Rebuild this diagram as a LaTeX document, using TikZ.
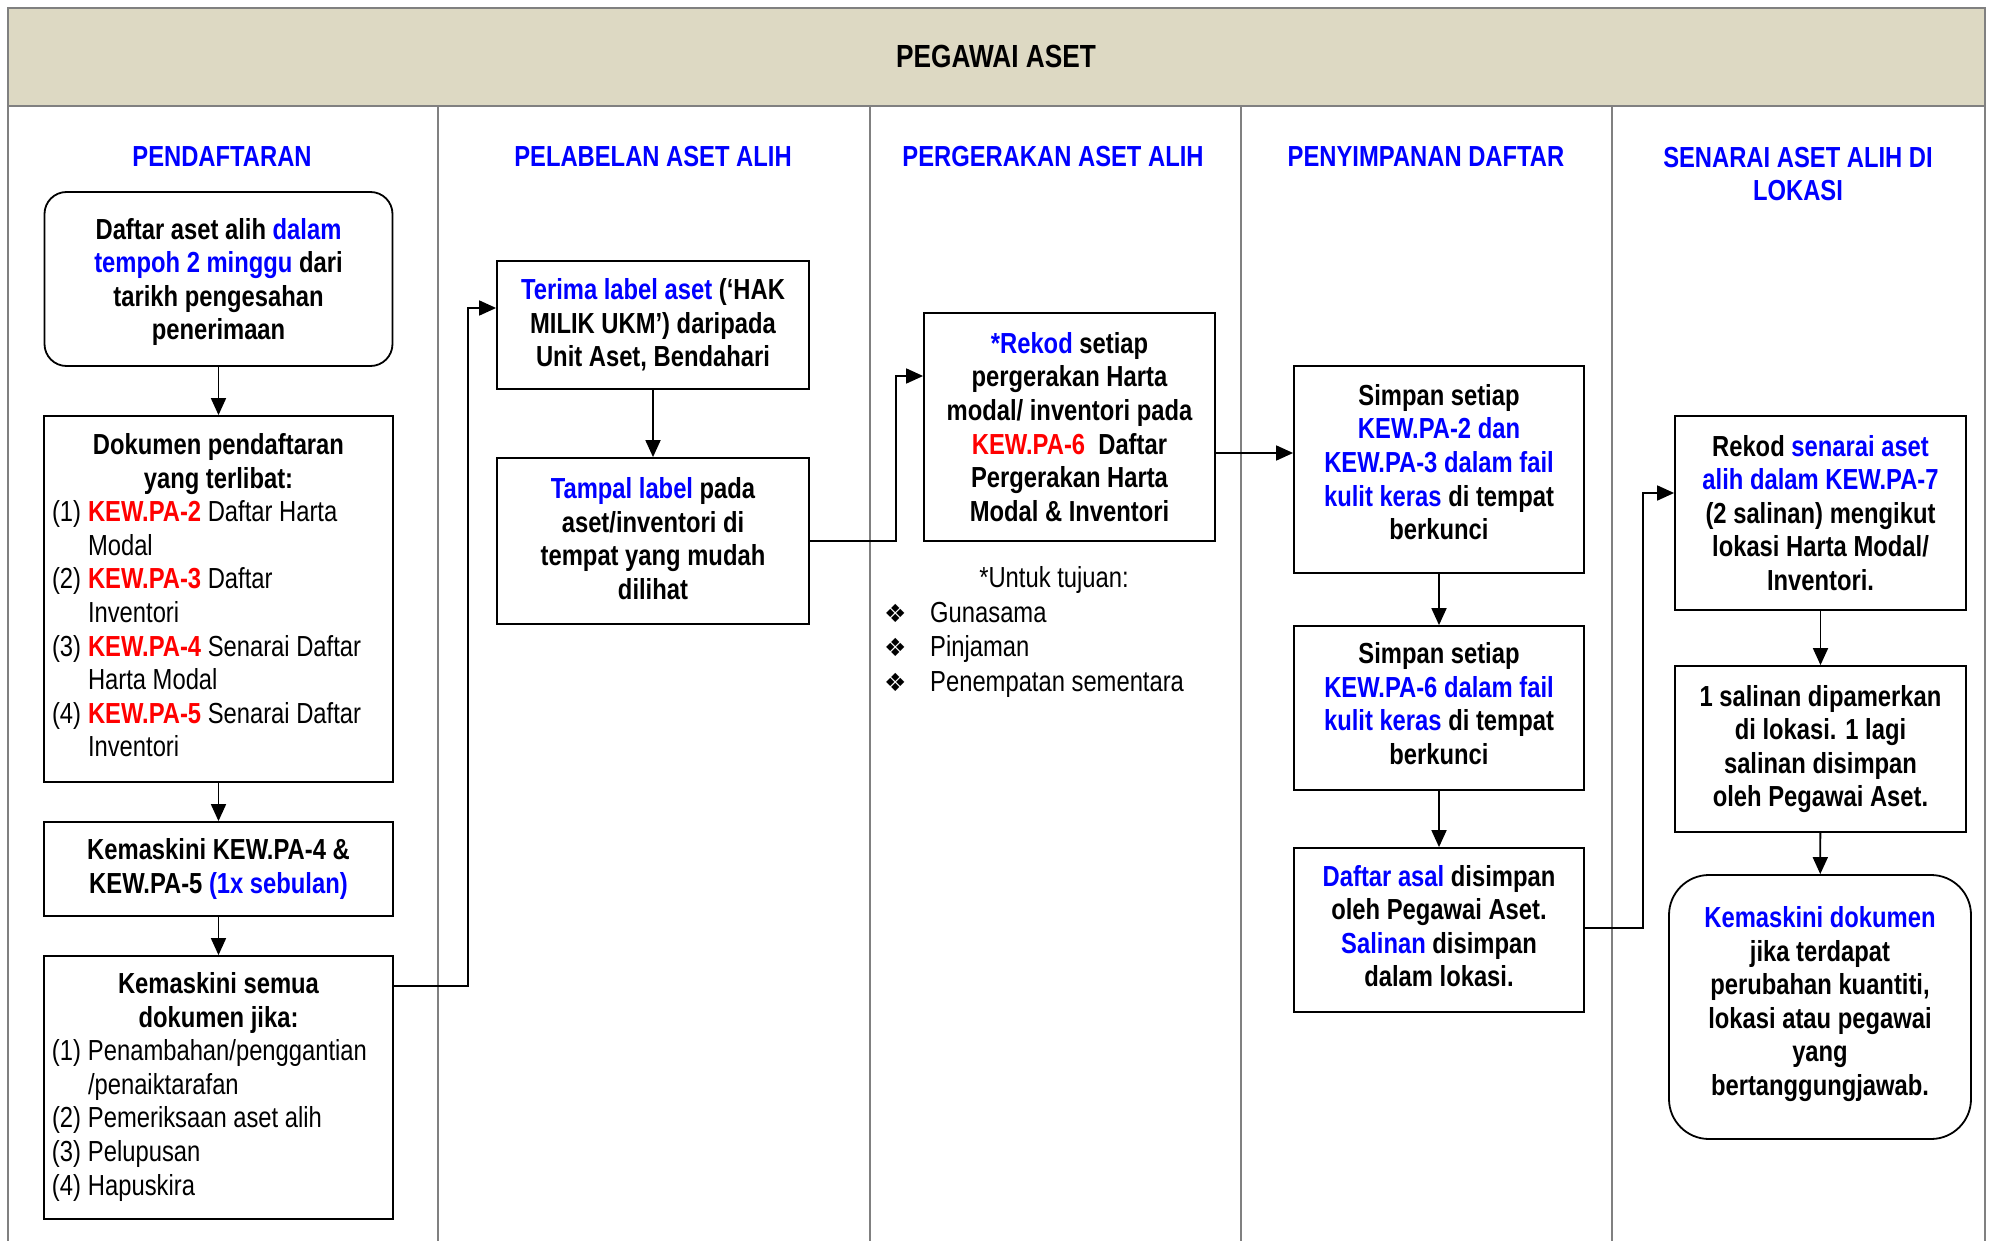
\documentclass[tikz,border=0pt]{standalone}
\usepackage{fontspec}
\setmainfont[FakeStretch=0.82]{Liberation Sans}
\newfontfamily\symfont{DejaVu Sans}
\usetikzlibrary{arrows.meta}
\definecolor{tblue}{RGB}{0,0,255}
\definecolor{tred}{RGB}{255,0,0}
\definecolor{hdrtan}{RGB}{221,217,195}
\definecolor{lanegray}{RGB}{128,128,128}
\newcommand\bl[1]{\leavevmode{\color{tblue}#1}}
\newcommand\rd[1]{\leavevmode{\color{tred}\bfseries #1}}
\newcommand\hb[1]{\multicolumn{2}{@{}c@{}}{\bfseries #1}}
\newcommand\dn[1]{\rule[-#1]{0pt}{#1}}
\newcommand\bul{{\symfont\fontsize{25}{25}\selectfont ❖}}
\begin{document}
\begin{tikzpicture}[x=1pt,y=-1pt,
  txt/.style={font=\fontsize{29}{33.6}\selectfont\bfseries, align=center},
  box/.style={txt, draw=black, line width=1.8pt, fill=white, inner sep=0pt},
  lbox/.style={draw=black, line width=1.8pt, fill=white, inner sep=0pt, font=\fontsize{29}{33.6}\selectfont},
  rbox/.style={box, rounded corners=22pt},
  arr/.style={line width=1.8pt, -{Triangle[length=17pt,width=15pt]}},
  lane/.style={draw=lanegray, line width=1.6pt},
  head/.style={font=\fontsize{29}{33.6}\selectfont\bfseries, text=tblue, align=center}]
\useasboundingbox (0,0) rectangle (1989,1241);
\fill[white] (0,0) rectangle (1989,1241);
% header
\draw[lane, fill=hdrtan, line width=2pt] (8,8) rectangle (1985,106);
\node[font=\fontsize{32}{36}\selectfont\bfseries] (title) at (996,56) {PEGAWAI ASET};
% lanes
\foreach \xx in {8,438,870,1241,1612,1985}
  \draw[lane] (\xx,106) -- (\xx,1241);
% lane headings
\node[head] (h1) at (222,157) {PENDAFTARAN};
\node[head] (h2) at (653,157) {PELABELAN ASET ALIH};
\node[head] (h3) at (1053,157) {PERGERAKAN ASET ALIH};
\node[head] (h4) at (1426,157) {PENYIMPANAN DAFTAR};
\node[head] (h5) at (1798,174) {SENARAI ASET ALIH DI\\LOKASI};
% column 1
\node[rbox, minimum width=348pt, minimum height=174pt] (A) at (218.5,279)
  {\rule{0pt}{27pt}Daftar aset alih \bl{dalam}\\\bl{tempoh 2 minggu} dari\\tarikh pengesahan\\penerimaan};
\node[lbox, minimum width=349pt, minimum height=366pt] (B) at (218.5,599)
  {\begin{tabular}{@{}p{36pt}@{}p{297pt}@{}}
   \hb{Dokumen pendaftaran}\\
   \hb{yang terlibat:}\\
   (1) & \rd{KEW.PA-2} Daftar Harta\\
       & Modal\\
   (2) & \rd{KEW.PA-3} Daftar\\
       & Inventori\\
   (3) & \rd{KEW.PA-4} Senarai Daftar\\
       & Harta Modal\\
   (4) & \rd{KEW.PA-5} Senarai Daftar\\
       & Inventori
   \end{tabular}};
\node[box, minimum width=349pt, minimum height=94pt] (C) at (218.5,869)
  {Kemaskini KEW.PA-4 \&\\KEW.PA-5 \bl{(1x sebulan)}};
\node[lbox, minimum width=349pt, minimum height=263pt] (D) at (218.5,1087.5)
  {\begin{tabular}{@{}p{36pt}@{}p{297pt}@{}}
   \hb{Kemaskini semua}\\
   \hb{dokumen jika:}\\
   (1) & Penambahan/penggantian\\
       & /penaiktarafan\\
   (2) & Pemeriksaan aset alih\\
   (3) & Pelupusan\\
   (4) & Hapuskira
   \end{tabular}};
% column 2
\node[box, minimum width=312pt, minimum height=128pt] (E) at (653,325)
  {\bl{Terima label aset} (`HAK\\MILIK UKM') daripada\\Unit Aset, Bendahari};
\node[box, minimum width=312pt, minimum height=166pt] (F) at (653,541)
  {\bl{Tampal label} pada\\aset/inventori di\\tempat yang mudah\\dilihat\dn{5pt}};
% column 3
\node[box, minimum width=291pt, minimum height=228pt] (G) at (1069.5,427)
  {\bl{*Rekod} setiap\\pergerakan Harta\\modal/ inventori pada\\\rd{KEW.PA-6}\ \ Daftar\\Pergerakan Harta\\Modal \& Inventori};
\node[font=\fontsize{29}{33.6}\selectfont] (note) at (1054,580) {*Untuk tujuan:};
\node[anchor=north west, inner sep=0pt, font=\fontsize{29}{34.5}\selectfont] (notes) at (884,598)
  {\begin{tabular}{@{}p{46pt}@{}l@{}}
   \bul & Gunasama\\
   \bul & Pinjaman\\
   \bul & Penempatan sementara
   \end{tabular}};
% column 4
\node[box, minimum width=290pt, minimum height=207pt] (H) at (1439,469.5)
  {Simpan setiap\\\bl{KEW.PA-2 dan}\\\bl{KEW.PA-3 dalam fail}\\\bl{kulit keras} di tempat\\berkunci\dn{15pt}};
\node[box, minimum width=290pt, minimum height=164pt] (I) at (1439,708)
  {Simpan setiap\\\bl{KEW.PA-6 dalam fail}\\\bl{kulit keras} di tempat\\berkunci\dn{9pt}};
\node[box, minimum width=290pt, minimum height=164pt] (J) at (1439,930)
  {\bl{Daftar asal} disimpan\\oleh Pegawai Aset.\\\bl{Salinan} disimpan\\dalam lokasi.\dn{8pt}};
% column 5
\node[box, minimum width=291pt, minimum height=194pt] (K) at (1820.5,513)
  {Rekod \bl{senarai aset}\\\bl{alih dalam KEW.PA-7}\\(2 salinan) mengikut\\lokasi Harta Modal/\\Inventori.};
\node[box, minimum width=291pt, minimum height=166pt] (L) at (1820.5,749)
  {1 salinan dipamerkan\\di lokasi. 1 lagi\\salinan disimpan\\oleh Pegawai Aset.};
\node[box, rounded corners=40pt, minimum width=302pt, minimum height=264pt] (M) at (1820,1007)
  {\bl{Kemaskini dokumen}\\jika terdapat\\perubahan kuantiti,\\lokasi atau pegawai\\yang\\bertanggungjawab.\dn{12pt}};
% connectors
\draw[arr] (A) -- (B);
\draw[arr] (B) -- (C);
\draw[arr] (C) -- (D);
\draw[arr] ([yshift=101.5pt]D.east) -- ++(74,0) |- ([yshift=17pt]E.west);
\draw[arr] (E) -- (F);
\draw[arr] (F.east) -- ++(86,0) |- ([yshift=51pt]G.west);
\draw[arr] ([yshift=-26pt]G.east) -- ([yshift=16.5pt]H.west);
\draw[arr] (H) -- (I);
\draw[arr] (I) -- (J);
\draw[arr] ([yshift=2pt]J.east) -- ++(58,0) |- ([yshift=20pt]K.west);
\draw[arr] (K) -- (L);
\draw[arr] (L) -- (M);
\end{tikzpicture}
\end{document}
